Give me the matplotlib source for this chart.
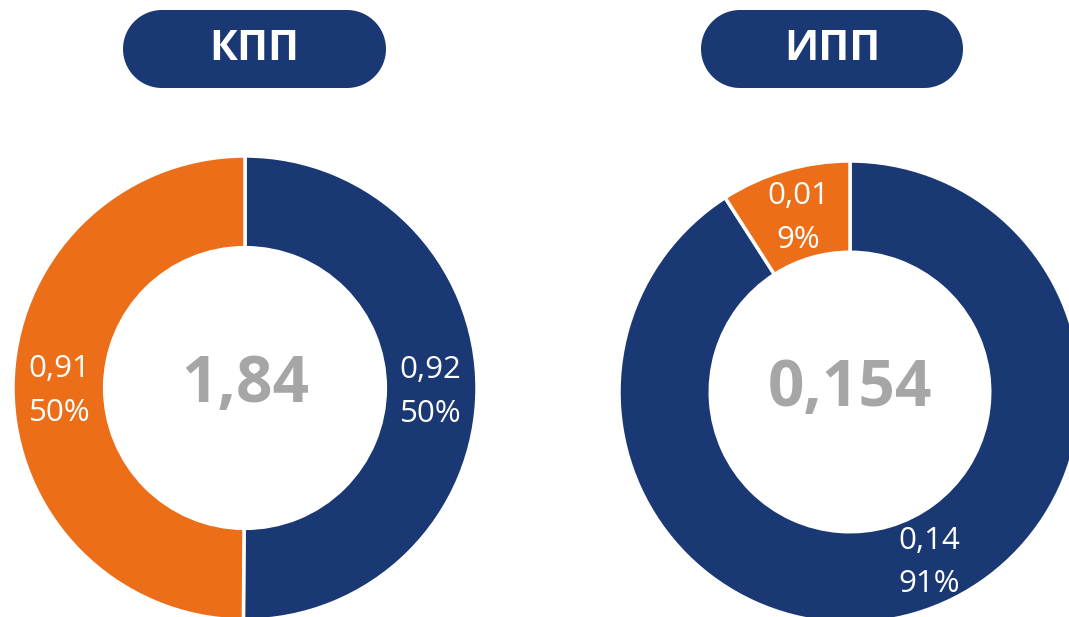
import numpy as np
import matplotlib
matplotlib.use('Agg')
import matplotlib.pyplot as plt
from matplotlib.patches import Polygon

plt.rcParams['font.family'] = ['Open Sans', 'DejaVu Sans']

# data
titles = ['КПП', 'ИПП']
kpp_values = [0.918, 0.914]     # blue, orange
ipp_values = [0.140, 0.014]     # blue, orange
kpp_total_txt = '1,84'
ipp_total_txt = '0,154'
label_shift = [[0, 0], [9, 0]]  # label angle nudge per wedge, degrees

BLUE = '#1A3873'
ORANGE = '#EC6E18'
GREY = '#A6A6A6'

W, H = 1069, 617
fig = plt.figure(figsize=(W / 100, H / 100), dpi=100)

def fmt(v):
    return ('%.2f' % v).replace('.', ',')

def donut(cx, cy, r, values, total_txt, shifts):
    # axes placed in pixel terms, y from top
    ax = fig.add_axes([(cx - r) / W, (H - cy - r) / H, 2 * r / W, 2 * r / H])
    wedges, _ = ax.pie(values, colors=[BLUE, ORANGE], startangle=90,
                       counterclock=False, radius=1,
                       wedgeprops=dict(width=0.395, edgecolor='white', linewidth=2.5))
    ax.set_xlim(-1, 1)
    ax.set_ylim(-1, 1)
    ax.axis('off')
    tot = sum(values)
    for w, v, s in zip(wedges, values, shifts):
        ang = np.deg2rad((w.theta1 + w.theta2) / 2 + s)
        ax.text(0.80 * np.cos(ang), 0.80 * np.sin(ang) - 0.015,
                '%s\n%d%%' % (fmt(v), round(v / tot * 100)),
                ha='center', va='center', color='white', fontsize=22.5,
                linespacing=1.6)
    ax.text(0, 0.01, total_txt, ha='center', va='center', color=GREY,
            fontsize=46, fontweight='bold')
    return ax

donut(245, 388, 232, kpp_values, kpp_total_txt, label_shift[0])
donut(850, 392, 231, ipp_values, ipp_total_txt, label_shift[1])

# title pills (pixel coords, y measured from bottom)
top = fig.add_axes([0, 0, 1, 1])
top.set_xlim(0, W)
top.set_ylim(0, H)
top.axis('off')

def pill(x0, x1, yc, h):
    r = h / 2
    t = np.linspace(-np.pi / 2, np.pi / 2, 60)
    right = np.c_[x1 - r + r * np.cos(t), yc + r * np.sin(t)]
    left = np.c_[x0 + r - r * np.cos(t), yc - r * np.sin(t)]
    return Polygon(np.vstack([right, left]), closed=True, fc=BLUE, ec='none')

for (x0, x1), t in zip([(123, 386), (701, 963)], titles):
    top.add_patch(pill(x0, x1, H - 49, 78))
    top.text((x0 + x1) / 2, H - 49, t, ha='center', va='center', color='white',
             fontsize=30, fontweight='bold')

fig.savefig('out.png', dpi=100)
